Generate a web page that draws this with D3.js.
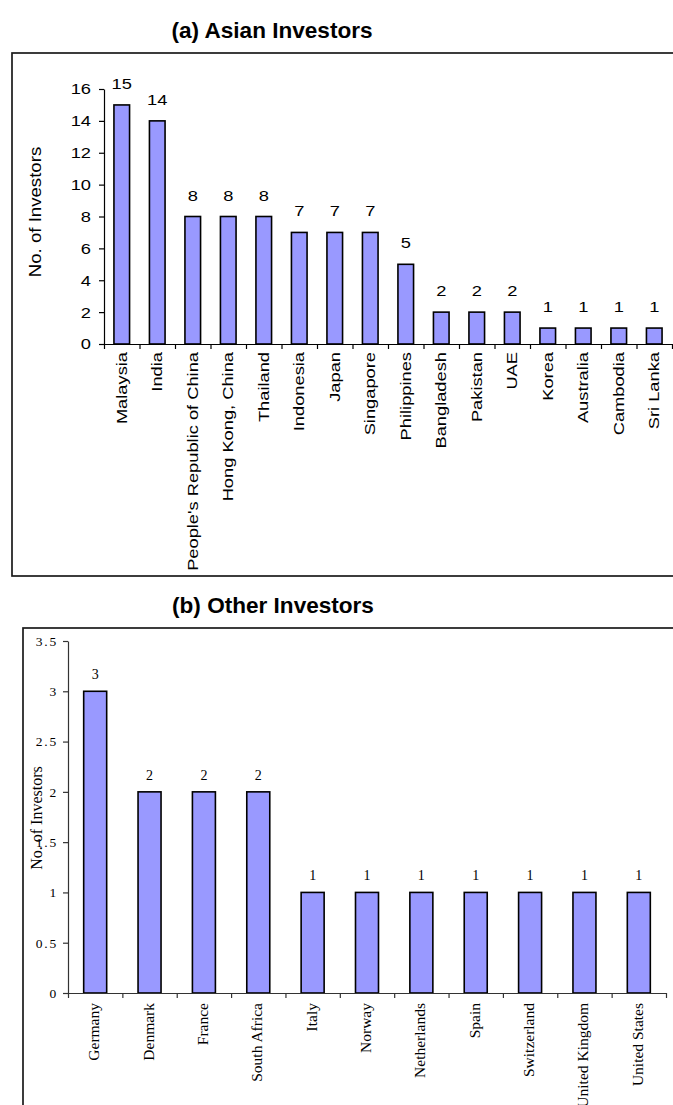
<!DOCTYPE html>
<html>
<head>
<meta charset="utf-8">
<script src="https://cdn.jsdelivr.net/npm/d3@7"></script>
<style>
  html, body { margin: 0; padding: 0; background: #fff; }
  svg { display: block; }
</style>
</head>
<body>
<svg id="chart" width="673" height="1105"></svg>
<script>
// Asian investors
const asiaCountries = ["Malaysia", "India", "People's Republic of China", "Hong Kong, China",
  "Thailand", "Indonesia", "Japan", "Singapore", "Philippines", "Bangladesh", "Pakistan",
  "UAE", "Korea", "Australia", "Cambodia", "Sri Lanka"];
const asiaCounts = [15, 14, 8, 8, 8, 7, 7, 7, 5, 2, 2, 2, 1, 1, 1, 1];
const asiaTicks = [0, 2, 4, 6, 8, 10, 12, 14, 16];

// Other investors
const otherCountries = ["Germany", "Denmark", "France", "South Africa", "Italy", "Norway",
  "Netherlands", "Spain", "Switzerland", "United Kingdom", "United States"];
const otherCounts = [3, 2, 2, 2, 1, 1, 1, 1, 1, 1, 1];
const otherTicks = [0, 0.5, 1, 1.5, 2, 2.5, 3, 3.5];

const svg = d3.select("#chart");
const BAR_FILL = "#9999ff";

function drawPanel(cfg) {
  const g = svg.append("g");

  // frame around the panel
  g.append("rect")
    .attr("x", cfg.frame.x).attr("y", cfg.frame.y)
    .attr("width", cfg.frame.w).attr("height", cfg.frame.h)
    .attr("fill", "none").attr("stroke", "#1a1a1a").attr("stroke-width", 1.7);

  // title
  g.append("text")
    .attr("transform", `translate(${cfg.titleX},${cfg.titleY}) scale(${cfg.titleSx},1)`)
    .attr("text-anchor", "middle")
    .attr("font-family", "'Liberation Sans', Arial, sans-serif")
    .attr("font-weight", "bold")
    .attr("font-size", cfg.titleSize)
    .text(cfg.title);

  const x = d3.scaleBand()
    .domain(cfg.categories)
    .range([cfg.x0, cfg.x1])
    .paddingInner(cfg.pad).paddingOuter(cfg.pad / 2);

  const y = d3.scaleLinear()
    .domain([0, cfg.yMax])
    .range([cfg.yBase, cfg.yTop]);

  // bars
  g.selectAll("rect.bar")
    .data(cfg.values)
    .join("rect")
    .attr("class", "bar")
    .attr("x", (d, i) => x(cfg.categories[i]))
    .attr("width", x.bandwidth())
    .attr("y", d => y(d))
    .attr("height", d => y(0) - y(d))
    .attr("fill", BAR_FILL)
    .attr("stroke", "#000")
    .attr("stroke-width", 1.6);

  // value labels
  g.selectAll("text.val")
    .data(cfg.values)
    .join("text")
    .attr("class", "val")
    .attr("transform", (d, i) =>
      `translate(${x(cfg.categories[i]) + x.bandwidth() / 2},${y(d) - cfg.valGap}) scale(${cfg.valSx},1)`)
    .attr("text-anchor", "middle")
    .attr("font-family", cfg.font)
    .attr("font-size", cfg.valSize)
    .text(d => d);

  // y axis
  const yAxis = g.append("g")
    .attr("transform", `translate(${cfg.x0},0)`)
    .call(d3.axisLeft(y).tickValues(cfg.ticks).tickSize(5).tickSizeOuter(0)
      .tickFormat(d => String(d)));
  yAxis.select(".domain").attr("stroke", cfg.axisColor).attr("stroke-width", 1.2);
  yAxis.selectAll(".tick line").attr("stroke", cfg.axisColor).attr("stroke-width", 1.2);
  yAxis.selectAll(".tick text")
    .attr("x", null)
    .attr("transform", `translate(${-cfg.yLabelGap},0) scale(${cfg.tickSx},1)`)
    .attr("font-family", cfg.font)
    .attr("font-size", cfg.tickSize)
    .attr("letter-spacing", cfg.tickSpacing)
    .attr("fill", "#000");

  // x axis line with ticks at category boundaries
  const edges = d3.scaleLinear().domain([0, cfg.categories.length]).range([cfg.x0, cfg.x1]);
  const xEdge = g.append("g")
    .attr("transform", `translate(0,${cfg.yBase})`)
    .call(d3.axisBottom(edges).tickValues(d3.range(cfg.categories.length + 1))
      .tickSize(5).tickSizeOuter(0).tickFormat(""));
  xEdge.select(".domain").attr("stroke", cfg.axisColor).attr("stroke-width", 1.2);
  xEdge.selectAll(".tick line").attr("stroke", cfg.axisColor).attr("stroke-width", 1.2);

  // category labels
  const xLab = g.append("g")
    .attr("transform", `translate(0,${cfg.yBase})`)
    .call(d3.axisBottom(x).tickSize(0).tickSizeOuter(0));
  xLab.select(".domain").remove();
  xLab.selectAll(".tick text")
    .attr("y", null).attr("dy", null)
    .attr("transform", `translate(${cfg.xLabelDx},${cfg.xLabelGap}) rotate(-90) scale(${cfg.xLabSx},1)`)
    .attr("text-anchor", "end")
    .attr("font-family", cfg.font)
    .attr("font-size", cfg.xLabSize)
    .attr("fill", "#000");

  // y axis title
  g.append("text")
    .attr("transform", `translate(${cfg.yTitleX},${cfg.yTitleY}) rotate(-90) scale(${cfg.yTitleSx},1)`)
    .attr("text-anchor", "middle")
    .attr("font-family", cfg.font)
    .attr("font-size", cfg.yTitleSize)
    .text("No. of Investors");
}

drawPanel({
  title: "(a) Asian Investors",
  titleX: 272, titleY: 38, titleSize: 21.5, titleSx: 1.05,
  frame: { x: 12, y: 53, w: 700, h: 523 },
  categories: asiaCountries, values: asiaCounts, ticks: asiaTicks,
  yMax: 16, yBase: 344, yTop: 89, x0: 104, x1: 672, pad: 0.56,
  font: "'Liberation Sans', Arial, sans-serif",
  axisColor: "#000",
  valSize: 15.5, valSx: 1.18, valGap: 16,
  tickSize: 15.5, tickSx: 1.18, tickSpacing: 0, yLabelGap: 13,
  xLabSize: 15.5, xLabSx: 1.18, xLabelGap: 8, xLabelDx: 5,
  yTitleX: 41, yTitleY: 212, yTitleSize: 15.8, yTitleSx: 1.18
});

drawPanel({
  title: "(b) Other Investors",
  titleX: 273, titleY: 613, titleSize: 21.5, titleSx: 1.05,
  frame: { x: 23, y: 628, w: 700, h: 520 },
  categories: otherCountries, values: otherCounts, ticks: otherTicks,
  yMax: 3.5, yBase: 993, yTop: 641, x0: 68, x1: 666, pad: 0.577,
  font: "'Liberation Serif', 'Times New Roman', serif",
  axisColor: "#333",
  valSize: 14, valSx: 1, valGap: 12,
  tickSize: 13.5, tickSx: 1, tickSpacing: 1.8, yLabelGap: 10,
  xLabSize: 15.5, xLabSx: 1, xLabelGap: 10, xLabelDx: 4,
  yTitleX: 42, yTitleY: 818, yTitleSize: 16, yTitleSx: 1
});
</script>
</body>
</html>
